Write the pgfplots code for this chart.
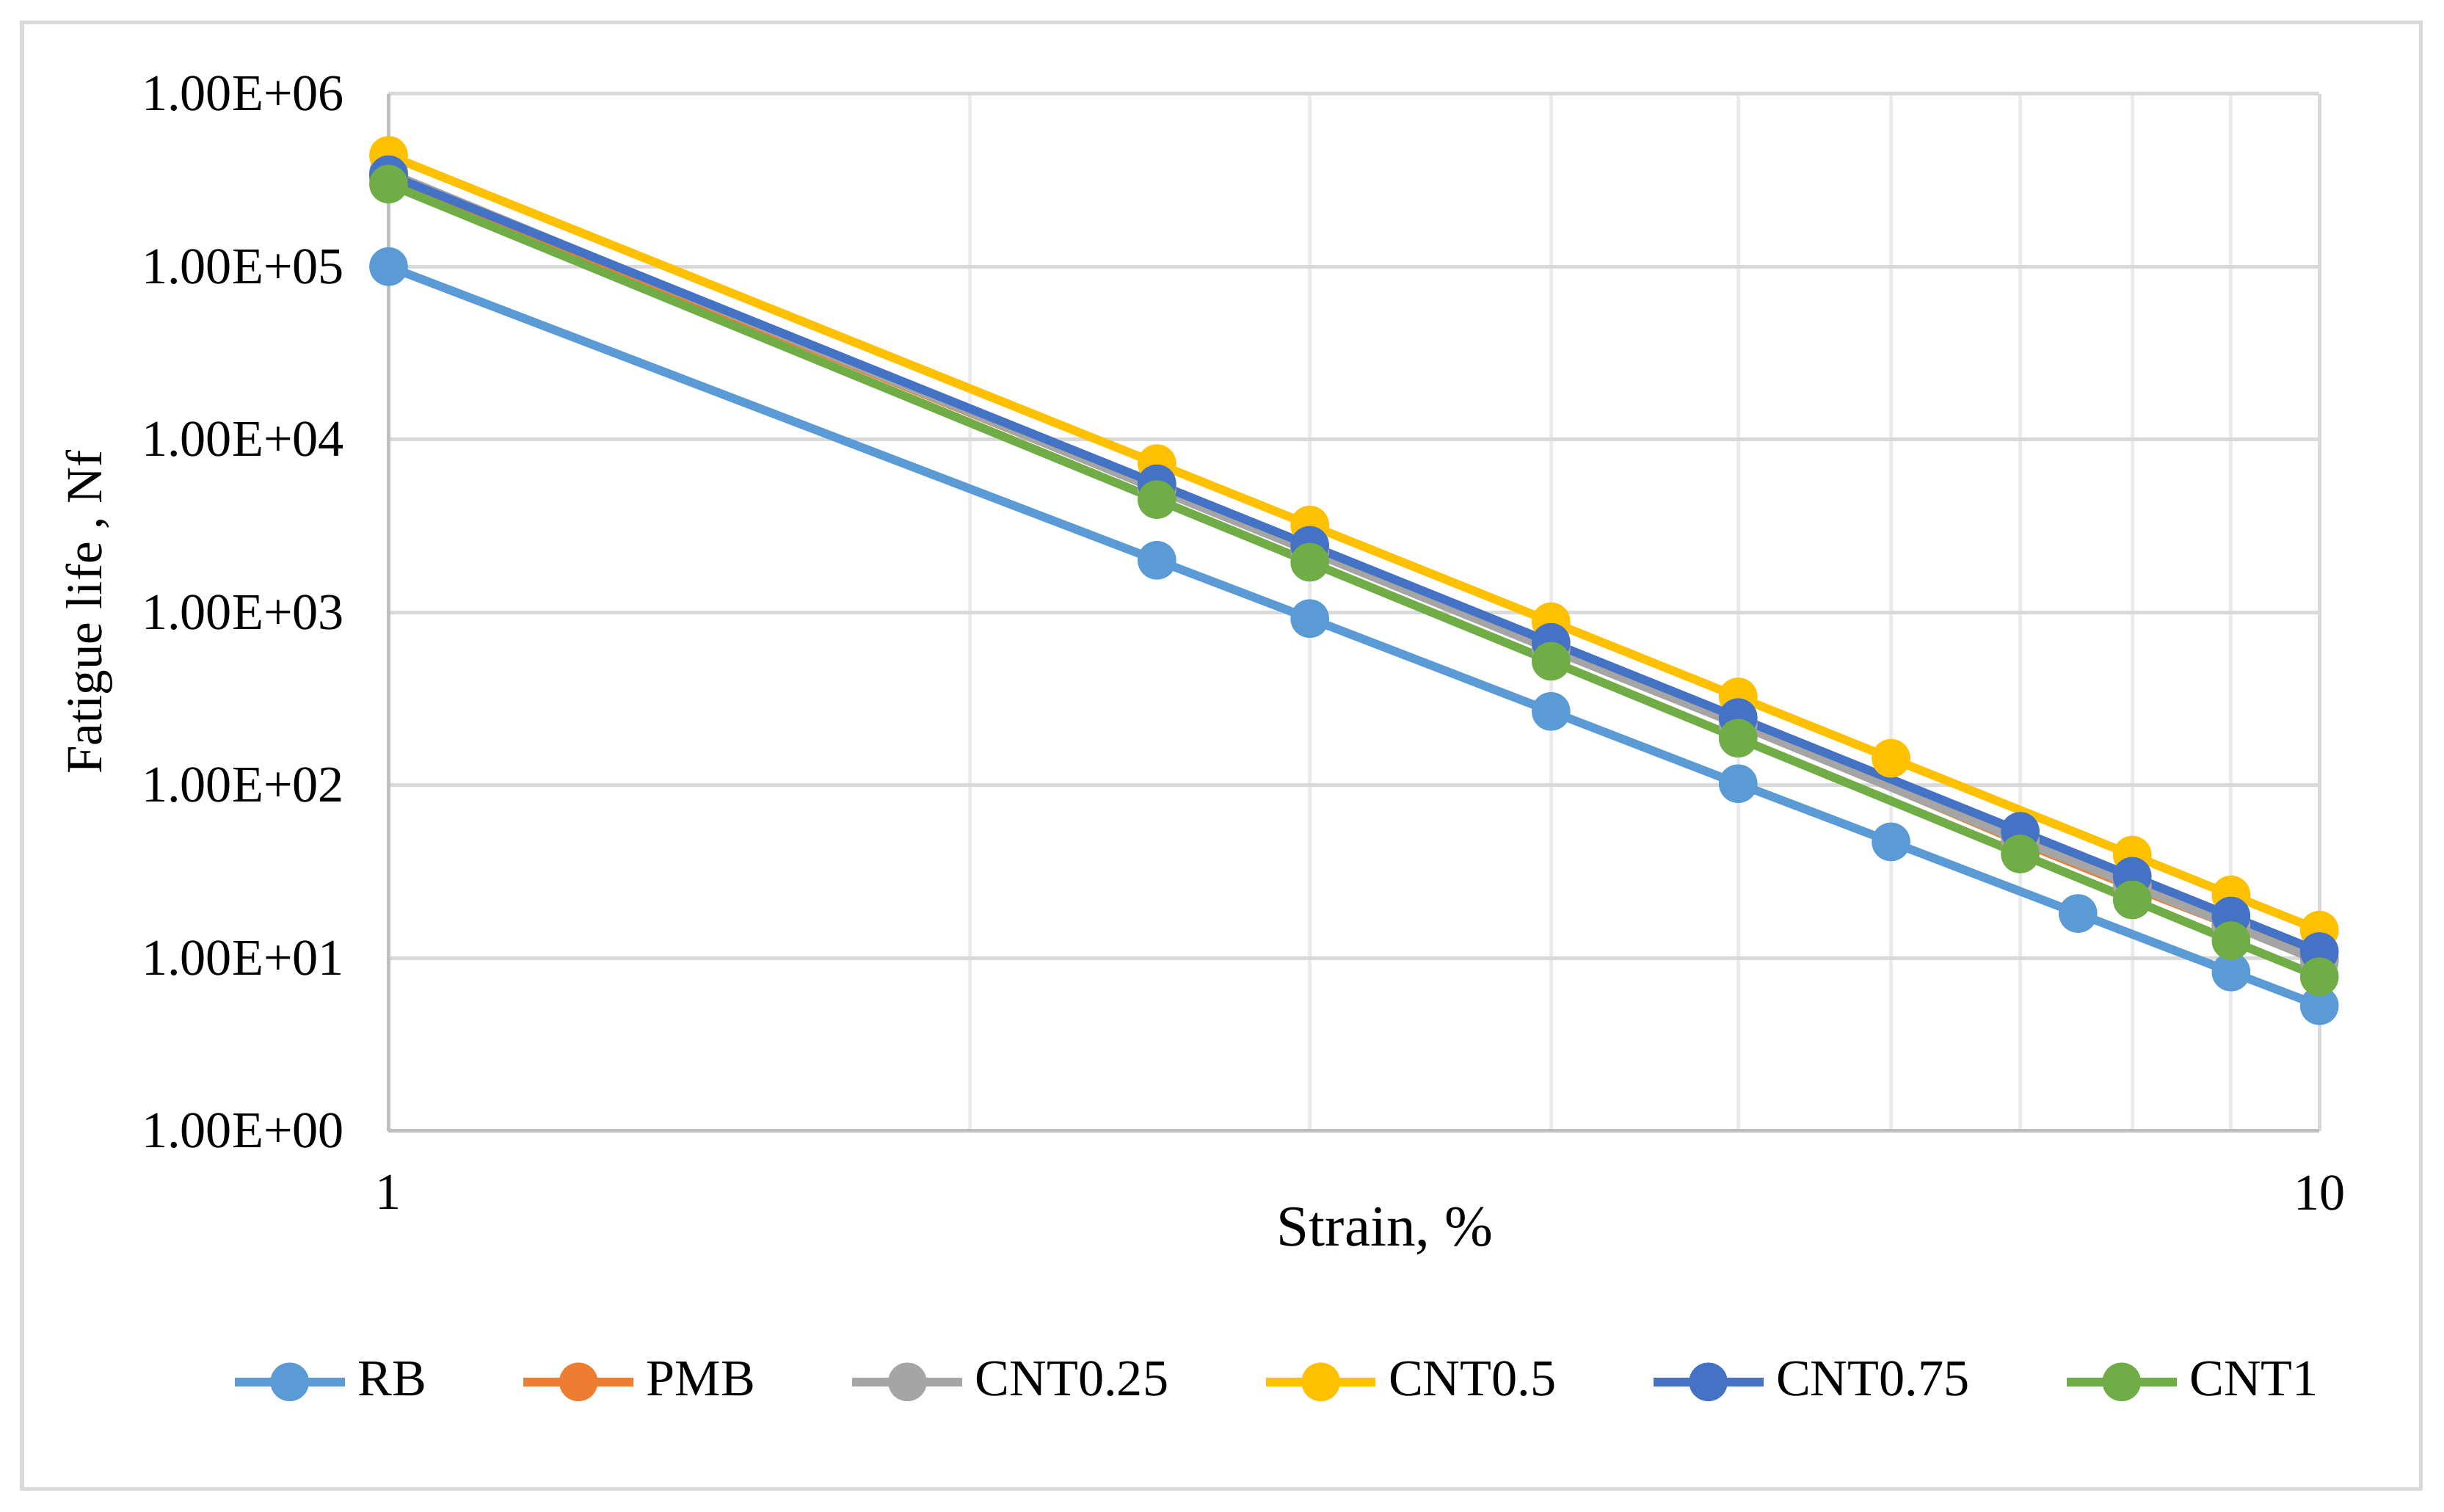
\documentclass[border=0pt]{standalone}
\usepackage{fontspec}
\setmainfont{Liberation Serif}
\usepackage{pgfplots}
\pgfplotsset{compat=1.18}
\definecolor{cRB}{HTML}{5B9BD5}
\definecolor{cPMB}{HTML}{ED7D31}
\definecolor{cC25}{HTML}{A5A5A5}
\definecolor{cC50}{HTML}{FFC000}
\definecolor{cC75}{HTML}{4472C4}
\definecolor{cC100}{HTML}{70AD47}
\definecolor{gridc}{HTML}{D9D9D9}
\definecolor{mgridc}{HTML}{EBEBEB}
\definecolor{axisc}{HTML}{BFBFBF}
\begin{document}
\begin{tikzpicture}
\useasboundingbox (0,0) rectangle (20,12.372);
\fill[white] (0,0) rectangle (20,12.372);
\draw[gridc, line width=0.9pt] (0.18,0.19) rectangle (19.81,12.19);
\begin{axis}[
  at={(3.18cm,3.118cm)}, anchor=south west,
  scale only axis, width=15.8cm, height=8.487cm,
  xmode=log, ymode=log,
  xmin=1, xmax=10, ymin=1, ymax=1e6,
  xtick={1,10}, xticklabels={1,10},
  minor xtick={2,3,4,5,6,7,8,9},
  ytick={1,10,100,1000,10000,100000,1000000},
  yticklabels={1.00E+00,1.00E+01,1.00E+02,1.00E+03,1.00E+04,1.00E+05,1.00E+06},
  minor ytick={},
  major tick length=0pt, minor tick length=0pt,
  xmajorgrids, xminorgrids, ymajorgrids,
  major grid style={gridc, line width=0.9pt},
  minor grid style={mgridc, line width=0.9pt},
  axis x line*=bottom, axis y line*=left,
  axis line style={axisc, line width=0.9pt, -},
  tick label style={font=\fontsize{12}{14}\selectfont, black},
  yticklabel style={xshift=-0.24cm},
  xticklabel style={yshift=-0.24cm},
  xlabel={Strain, \%},
  ylabel={Fatigue life , Nf},
  xlabel style={font=\fontsize{13.5}{15}\selectfont, at={(axis description cs:0.516,0)}, anchor=center, yshift=-0.82cm},
  ylabel style={font=\fontsize{11.8}{14}\selectfont, at={(axis description cs:0,0.5)}, anchor=center, yshift=2.45cm},
  clip=false,
  every axis plot/.append style={line width=2pt, mark=*, mark size=3.5pt},
  legend columns=6,
  legend style={draw=none, fill=none, at={(axis description cs:0.461,-0.242)}, anchor=center,
    font=\fontsize{12}{14}\selectfont,
    /tikz/every even column/.append style={column sep=0.69cm}},
  legend image code/.code={\draw[mark repeat=2,mark phase=2,#1] plot coordinates {(0cm,0cm) (0.45cm,0cm) (0.9cm,0cm)};},
]
\addplot[color=cRB, mark options={fill=cRB, draw=cRB}] coordinates {
(1,100000) (2.5,2000) (3,920) (4,267) (5,102) (6,47) (7.5,18.1) (9,8.3) (10,5.3)};
\addlegendentry{RB}
\addplot[color=cPMB, mark options={fill=cPMB, draw=cPMB}] coordinates {
(1,330000) (2.5,5200) (3,2300) (4,630) (5,232) (7,47) (8,25.8) (9,15.5) (10,10.0)};
\addlegendentry{PMB}
\addplot[color=cC25, mark options={fill=cC25, draw=cC25}] coordinates {
(1,350000) (2.5,5150) (3,2260) (4,610) (5,225) (7,48) (8,26.5) (9,15.5) (10,9.6)};
\addlegendentry{CNT0.25}
\addplot[color=cC50, mark options={fill=cC50, draw=cC50}] coordinates {
(1,440000) (2.5,7250) (3,3200) (4,882) (5,324) (6,143) (8,39.4) (9,23.2) (10,14.5)};
\addlegendentry{CNT0.5}
\addplot[color=cC75, mark options={fill=cC75, draw=cC75}] coordinates {
(1,340000) (2.5,5540) (3,2440) (4,670) (5,246) (7,54.1) (8,29.7) (9,17.5) (10,10.9)};
\addlegendentry{CNT0.75}
\addplot[color=cC100, mark options={fill=cC100, draw=cC100}] coordinates {
(1,300000) (2.5,4490) (3,1948) (4,521) (5,187) (7,40.0) (8,21.7) (9,12.6) (10,7.8)};
\addlegendentry{CNT1}
\end{axis}
\end{tikzpicture}
\end{document}
